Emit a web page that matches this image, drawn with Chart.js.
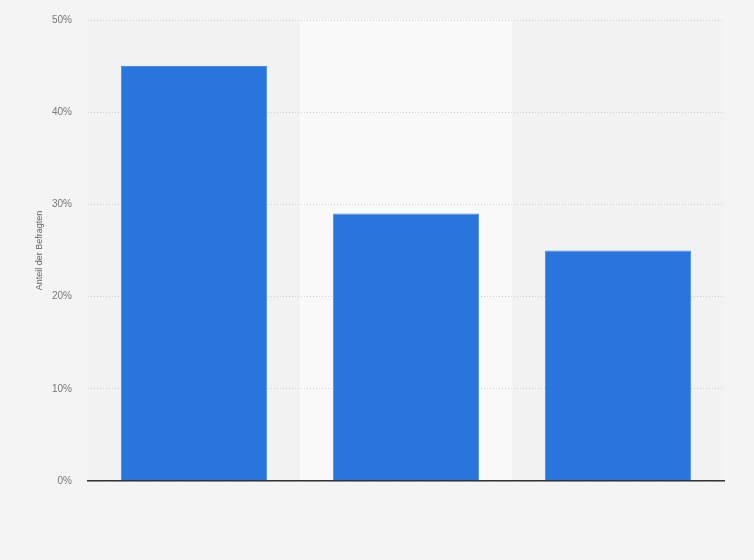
<!DOCTYPE html>
<html>
<head>
<meta charset="utf-8">
<script src="https://cdn.jsdelivr.net/npm/chart.js@4/dist/chart.umd.min.js"></script>
<style>
  html, body { margin: 0; padding: 0; background: #f4f4f4; }
  #wrap { width: 754px; height: 560px; position: relative; }
</style>
</head>
<body>
<div id="wrap"><canvas id="grafica"></canvas></div>
<script>
const kategorien = ["", " ", "  "];
const anteile = [45, 29, 25];
const yTicks = [0, 10, 20, 30, 40, 50];

// Hintergrund der Plotfläche + helles Band hinter der mittleren Kategorie
const bandPlugin = {
  id: "band",
  beforeDraw(chart) {
    const { ctx, chartArea, scales } = chart;
    const x = scales.x;
    const breite = (x.right - x.left) / kategorien.length;
    const mitte = x.getPixelForValue(1);
    ctx.save();
    ctx.fillStyle = "#f2f2f2";
    ctx.fillRect(chartArea.left, chartArea.top, chartArea.right - chartArea.left, chartArea.bottom - chartArea.top);
    ctx.fillStyle = "#f9f9f9";
    ctx.fillRect(mitte - breite / 2, chartArea.top, breite, chartArea.bottom - chartArea.top);
    ctx.restore();
  }
};

const ctx = document.getElementById("grafica").getContext("2d");
new Chart(ctx, {
  type: "bar",
  data: {
    labels: kategorien,
    datasets: [{
      data: anteile,
      backgroundColor: "#2876dd",
      borderColor: "#4a8ce4",
      borderWidth: { top: 1, left: 1, right: 1, bottom: 0 },
      borderSkipped: "bottom",
      categoryPercentage: 0.69,
      barPercentage: 1.0
    }]
  },
  options: {
    responsive: true,
    maintainAspectRatio: false,
    animation: false,
    layout: { padding: { top: 20, right: 30, bottom: 0, left: 0 } },
    plugins: {
      legend: { display: false },
      tooltip: { enabled: false }
    },
    scales: {
      x: {
        ticks: { display: false },
        grid: { display: false, drawTicks: false },
        border: { display: true, color: "#333", width: 1.5, z: 1 },
        afterFit: s => { s.height = 79; s.paddingLeft = 0; s.paddingRight = 0; }
      },
      y: {
        min: 0,
        max: 50,
        afterBuildTicks: s => { s.ticks = yTicks.map(v => ({ value: v })); },
        ticks: {
          padding: 16,
          color: "#777",
          font: { family: "'Liberation Sans', Arial, sans-serif", size: 10 },
          callback: v => v + "%"
        },
        grid: {
          color: "#cfcfcf",
          drawTicks: false,
          lineWidth: 1
        },
        border: { display: false, dash: [1, 2] },
        title: {
          display: true,
          text: "Anteil der Befragten",
          color: "#666",
          font: { family: "'Liberation Sans', Arial, sans-serif", size: 9 },
          padding: { top: 34, bottom: 0 }
        },
        afterFit: s => { s.width = 88; s.paddingTop = 0; s.paddingBottom = 0; }
      }
    }
  },
  plugins: [bandPlugin]
});
</script>
</body>
</html>
